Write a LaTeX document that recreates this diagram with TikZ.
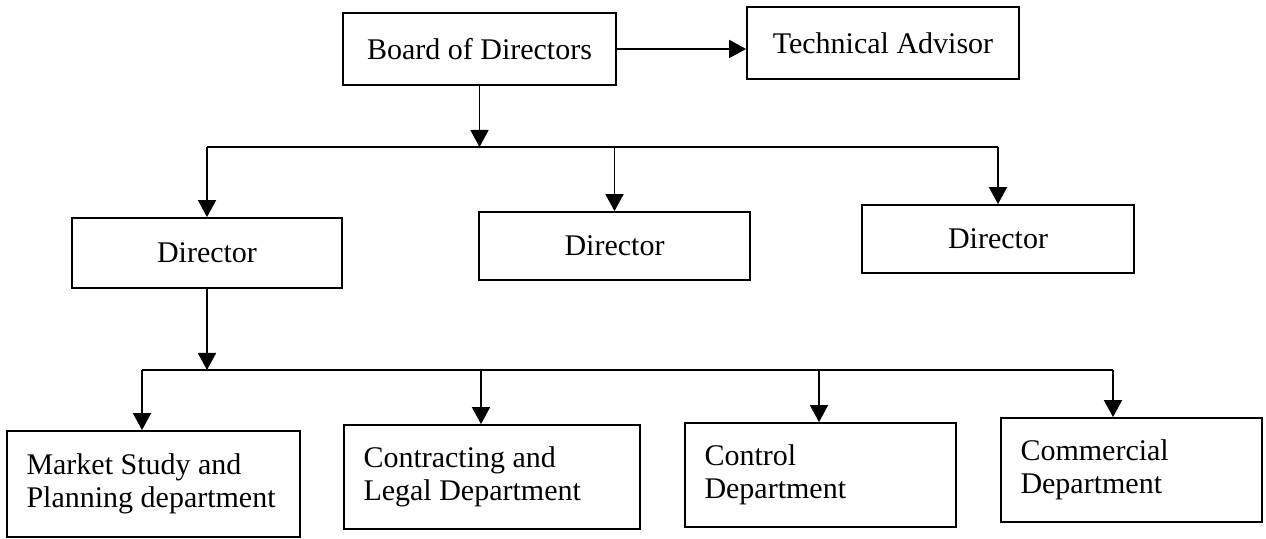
\documentclass[tikz,border=0pt]{standalone}
\usepackage{fontspec}
\setmainfont{Liberation Serif}
\usetikzlibrary{arrows.meta}
\begin{document}
\begin{tikzpicture}[x=0.5pt,y=-0.5pt,
  txt/.style={font=\fontsize{15}{16.5}\selectfont},
  box/.style={draw, line width=0.9pt, inner sep=0pt, txt, align=center},
  dept/.style={draw, line width=0.9pt, inner sep=0pt, minimum height=52pt},
  deptlabel/.style={txt, align=left, inner sep=0pt, anchor=west, xshift=10pt},
  conn/.style={line width=0.9pt},
  arr/.style={conn, -{Triangle[length=8.5pt,width=9pt]}}]
\useasboundingbox (0,0) rectangle (1266,539);
% top row
\node[box, minimum width=136.5pt, minimum height=36pt] (board) at (479.5,49) {Board of Directors};
\node[box, minimum width=136pt, minimum height=36pt] (tech) at (883,43) {Technical Advisor};
% directors
\node[box, minimum width=135pt, minimum height=35pt] (d1) at (207,253) {Director};
\node[box, minimum width=135.5pt, minimum height=34pt] (d2) at (614.5,246) {Director};
\node[box, minimum width=136pt, minimum height=34pt] (d3) at (998,239) {Director};
% departments
\node[dept, minimum width=146.5pt, minimum height=53pt] (market) at (153.5,484) {};
\node[dept, minimum width=148pt] (contract) at (492,477) {};
\node[dept, minimum width=135.5pt] (control) at (820.5,475) {};
\node[dept, minimum width=130.5pt] (commercial) at (1131.5,470) {};
\node[deptlabel] (marketlabel) at (market.west) {Market Study and\\Planning department};
\node[deptlabel] (contractlabel) at (contract.west) {Contracting and\\Legal Department};
\node[deptlabel] (controllabel) at (control.west) {Control\\Department};
\node[deptlabel] (commerciallabel) at (commercial.west) {Commercial\\Department};
% bus coordinates
\coordinate (bus1) at (479.5,147);
\coordinate (bus2) at (207,370);
\coordinate (bm) at (142,370);
\coordinate (bc) at (481,370);
\coordinate (bk) at (819,370);
\coordinate (bo) at (1113,370);
% connectors
\draw[arr] (board.east) -- (board.east -| tech.west);
\draw[arr] (board.south) -- (bus1);
\draw[conn] (d1.north |- bus1) -- (d3.north |- bus1);
\draw[arr] (d1.north |- bus1) -- (d1.north);
\draw[arr] (d2.north |- bus1) -- (d2.north);
\draw[arr] (d3.north |- bus1) -- (d3.north);
\draw[arr] (d1.south) -- (bus2);
\draw[conn] (bm) -- (bo);
\draw[arr] (bm) -- (bm |- market.north);
\draw[arr] (bc) -- (bc |- contract.north);
\draw[arr] (bk) -- (bk |- control.north);
\draw[arr] (bo) -- (bo |- commercial.north);
\end{tikzpicture}
\end{document}
